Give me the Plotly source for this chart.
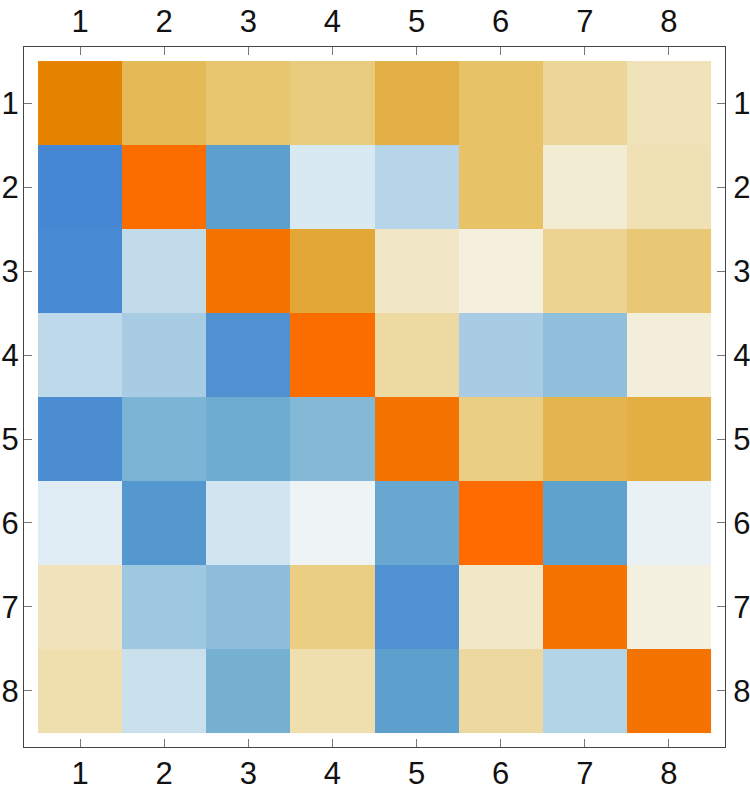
import plotly.graph_objects as go

labels = [1, 2, 3, 4, 5, 6, 7, 8]

row1 = [0.85, 0.58, 0.47, 0.42, 0.66, 0.50, 0.33, 0.20]
row2 = [-0.83, 0.98, -0.58, -0.07, -0.16, 0.50, 0.10, 0.22]
row3 = [-0.80, -0.13, 0.93, 0.72, 0.15, 0.07, 0.35, 0.45]
row4 = [-0.14, -0.20, -0.72, 0.98, 0.29, -0.20, -0.30, 0.08]
row5 = [-0.76, -0.38, -0.45, -0.35, 0.93, 0.40, 0.62, 0.68]
row6 = [-0.05, -0.66, -0.09, -0.02, -0.50, 0.99, -0.56, -0.03]
row7 = [0.19, -0.24, -0.31, 0.40, -0.72, 0.14, 0.93, 0.06]
row8 = [0.24, -0.11, -0.40, 0.24, -0.58, 0.30, -0.17, 0.93]

matrix = [row1, row2, row3, row4, row5, row6, row7, row8]

anchors = [
    (-1.0, "#3A7ED8"), (-0.8, "#4889D3"), (-0.6, "#5A9ECD"), (-0.4, "#76B1D2"),
    (-0.2, "#A8CCE3"), (-0.05, "#E0EDF4"), (0.0, "#F8F8F5"), (0.1, "#F2ECD2"),
    (0.3, "#EDD9A0"), (0.5, "#E7C266"), (0.7, "#E2AC3E"), (0.85, "#E58300"),
    (0.93, "#F57300"), (1.0, "#FF6A00"),
]
colorscale = [[(v + 1) / 2, c] for v, c in anchors]

fig = go.Figure(go.Heatmap(
    z=matrix, x=labels, y=labels, colorscale=colorscale, zmin=-1, zmax=1,
    showscale=False, hoverinfo="skip", xgap=0, ygap=0,
))
fig.add_trace(go.Scatter(x=[None], y=[None], xaxis="x2", yaxis="y2", showlegend=False))

font = dict(family="Liberation Sans, Arial, sans-serif", size=31, color="#111")
xr = [0.333, 8.667]
yr = [8.667, 0.333]
common = dict(tickmode="array", tickvals=labels, ticktext=[str(v) for v in labels],
              ticks="inside", ticklen=8, tickcolor="#777", tickwidth=1,
              showgrid=False, zeroline=False, showline=True, linecolor="#444",
              linewidth=1, tickfont=font, fixedrange=True, automargin=False)

fig.update_layout(
    width=750, height=796,
    margin=dict(l=24, r=25, t=47, b=49),
    paper_bgcolor="white", plot_bgcolor="white",
    xaxis=dict(range=xr, side="bottom", ticklabelstandoff=-1, **common),
    yaxis=dict(range=yr, side="left", ticklabelstandoff=-2, **common),
    xaxis2=dict(range=xr, side="top", overlaying="x", ticklabelstandoff=2, **common),
    yaxis2=dict(range=yr, side="right", overlaying="y", ticklabelstandoff=1, **common),
    showlegend=False,
)

fig.write_html("out.html")
